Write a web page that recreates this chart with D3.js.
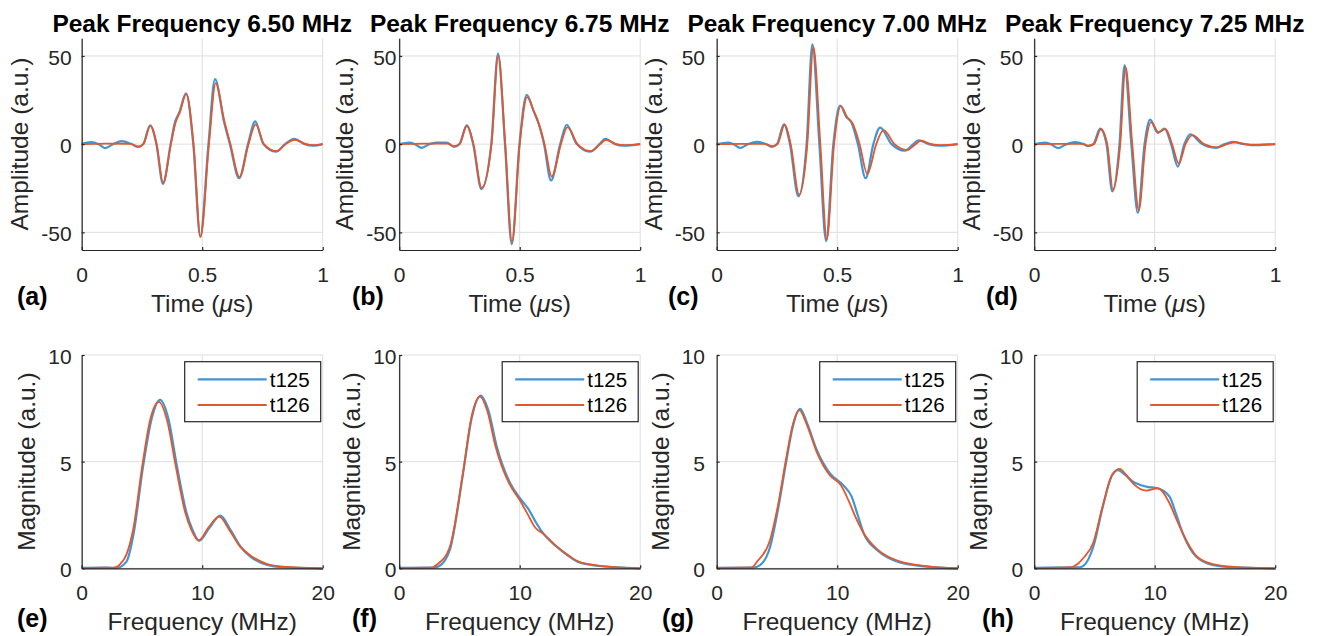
<!DOCTYPE html>
<html>
<head>
<meta charset="utf-8">
<script src="https://cdn.jsdelivr.net/npm/d3@7"></script>
<style>
  body { margin: 0; background: #fff; }
  svg { display: block; font-family: "Liberation Sans", Arial, Helvetica, sans-serif; }
</style>
</head>
<body>
<svg id="chart" width="1320" height="636"></svg>
<script>
// ---- data ----
const seriesNames = ["t125", "t126"];
const panelTitles = ["Peak Frequency 6.50 MHz", "Peak Frequency 6.75 MHz", "Peak Frequency 7.00 MHz", "Peak Frequency 7.25 MHz"];
const topTags = ["(a)", "(b)", "(c)", "(d)"];
const bottomTags = ["(e)", "(f)", "(g)", "(h)"];
const timeTicks = [0, 0.5, 1];
const ampTicks = [-50, 0, 50];
const freqTicks = [0, 10, 20];
const magTicks = [0, 5, 10];

// time traces, [time (us), amplitude]
const waveA125 = [[0,0],[0.04,1.1],[0.07,0],[0.097,-2.2],[0.13,0],[0.166,1.7],[0.205,0.2],[0.235,-1.6],[0.255,0],[0.284,10.7],[0.31,0],[0.337,-22.5],[0.369,0],[0.387,12.5],[0.405,18],[0.433,28.8],[0.463,0],[0.492,-52.4],[0.526,0],[0.553,36.9],[0.59,13],[0.615,0],[0.653,-19.3],[0.69,0],[0.72,12.9],[0.754,0],[0.806,-4.3],[0.844,0],[0.881,3.0],[0.925,0],[0.96,-0.9],[1,0]];
const waveA126 = [[0,0],[0.1,0.3],[0.2,0.2],[0.237,-1.4],[0.256,0],[0.285,10.4],[0.311,0],[0.338,-22],[0.37,0],[0.389,12],[0.407,18],[0.434,28.5],[0.464,0],[0.493,-52.6],[0.528,0],[0.556,34.6],[0.592,13],[0.617,0],[0.655,-18.7],[0.692,0],[0.722,11.2],[0.756,0],[0.808,-4.0],[0.846,0],[0.885,2.5],[0.93,0],[0.965,-0.6],[1,0]];
const waveB125 = [[0,0],[0.042,0.9],[0.065,0],[0.093,-2.1],[0.125,0],[0.155,0.9],[0.197,0.9],[0.227,-1.5],[0.25,0],[0.28,10.7],[0.307,0],[0.341,-25.5],[0.382,0],[0.41,51.3],[0.439,0],[0.467,-56.7],[0.499,0],[0.529,27.9],[0.557,19],[0.58,11],[0.601,0],[0.63,-20.6],[0.668,0],[0.695,11.0],[0.737,0],[0.792,-4.3],[0.831,0],[0.855,3.0],[0.896,0],[0.93,-0.9],[1,0]];
const waveB126 = [[0,0],[0.1,0.3],[0.2,0.3],[0.228,-1.2],[0.25,0],[0.281,10.3],[0.308,0],[0.342,-24.8],[0.383,0],[0.411,50],[0.44,0],[0.468,-55.4],[0.5,0],[0.531,26.6],[0.559,18.5],[0.582,10.5],[0.603,0],[0.633,-18.4],[0.671,0],[0.698,9.7],[0.74,0],[0.795,-4.0],[0.834,0],[0.858,2.5],[0.9,0],[0.935,-0.6],[1,0]];
const waveC125 = [[0,0],[0.048,0.9],[0.07,0],[0.097,-2.1],[0.13,0],[0.166,1.3],[0.205,0],[0.228,-1.5],[0.25,0],[0.279,11.2],[0.304,0],[0.339,-29.6],[0.373,0],[0.397,56.6],[0.426,0],[0.454,-54.9],[0.484,0],[0.512,21.9],[0.538,15.5],[0.56,12],[0.586,0],[0.618,-19.3],[0.65,0],[0.678,9.4],[0.726,0],[0.781,-3.7],[0.816,0],[0.837,2.2],[0.88,0],[0.927,-0.9],[1,0]];
const waveC126 = [[0,0],[0.1,0.2],[0.2,0.2],[0.23,-1.2],[0.252,0],[0.282,11.0],[0.307,0],[0.342,-28.7],[0.376,0],[0.401,55.2],[0.43,0],[0.457,-53.9],[0.487,0],[0.515,21.5],[0.541,15.3],[0.565,11.5],[0.593,0],[0.625,-16.9],[0.662,0],[0.692,7.9],[0.738,0],[0.79,-3.3],[0.825,0],[0.848,2.0],[0.89,0],[0.93,-0.5],[1,0]];
const waveD125 = [[0,0],[0.044,0.9],[0.068,0],[0.099,-2.2],[0.135,0],[0.168,1.1],[0.205,0],[0.223,-1.1],[0.245,0],[0.274,8.8],[0.3,0],[0.324,-26.8],[0.354,0],[0.375,44.8],[0.403,0],[0.43,-39],[0.458,0],[0.481,13.9],[0.513,6.4],[0.541,8.8],[0.568,0],[0.596,-12.7],[0.623,0],[0.647,5.6],[0.697,0],[0.754,-2.1],[0.79,0],[0.823,1.3],[0.87,0],[0.9,-0.6],[1,0]];
const waveD126 = [[0,0],[0.1,0.2],[0.2,0.2],[0.225,-0.9],[0.248,0],[0.277,8.5],[0.303,0],[0.327,-26],[0.357,0],[0.379,43.8],[0.407,0],[0.434,-37.5],[0.462,0],[0.485,12.5],[0.516,6.8],[0.545,8.6],[0.572,0],[0.6,-10.9],[0.628,0],[0.657,5.1],[0.705,0],[0.76,-1.8],[0.8,0],[0.835,1.0],[0.88,0],[0.91,-0.3],[1,0]];

// spectra, [frequency (MHz), magnitude]
const specE125 = [[0,0.02],[2,0.03],[2.9,0.02],[3.7,0.3],[4.3,1.6],[5.1,4.8],[5.8,7.0],[6.5,7.9],[7.2,7.0],[7.9,4.8],[8.7,2.6],[9.2,1.8],[9.75,1.3],[10.6,1.9],[11.5,2.47],[12.4,1.75],[13.2,1.0],[14,0.55],[15.4,0.16],[16.7,0.05],[20,0]];
const specE126 = [[0,0.02],[2,0.03],[2.6,0.02],[3.2,0.2],[3.7,0.63],[4.3,1.9],[5.0,4.7],[5.7,7.0],[6.4,7.8],[7.1,6.9],[7.8,4.8],[8.6,2.6],[9.1,1.8],[9.7,1.3],[10.5,1.9],[11.4,2.42],[12.3,1.75],[13.1,1.05],[14,0.6],[15.4,0.2],[16.7,0.08],[20,0]];
const specF125 = [[0,0.02],[2.8,0.03],[3.3,0.1],[4.2,0.86],[5.3,4.45],[6.0,7.0],[6.76,8.1],[7.4,7.4],[8.1,5.7],[9.2,4.0],[10.0,3.3],[10.7,2.8],[11.4,2.1],[12.0,1.6],[13.0,1.05],[14.0,0.6],[14.9,0.28],[16.4,0.12],[20,0]];
const specF126 = [[0,0.02],[2.7,0.03],[3.2,0.2],[4.2,1.0],[5.3,4.5],[6.0,7.1],[6.7,8.05],[7.3,7.4],[8.0,5.7],[9.1,4.0],[10.0,3.2],[10.6,2.6],[11.3,1.9],[12.0,1.6],[13.0,1.05],[14.0,0.62],[14.9,0.31],[16.4,0.14],[20,0]];
const specG125 = [[0,0.02],[3.0,0.03],[3.6,0.15],[4.43,1.0],[5.1,2.8],[5.8,5.1],[6.3,6.6],[6.92,7.47],[7.5,6.8],[8.3,5.55],[9.4,4.45],[10.5,3.9],[11.2,3.36],[11.7,2.5],[12.2,1.64],[13.3,0.86],[14.2,0.5],[15.2,0.27],[17.4,0.08],[20,0]];
const specG126 = [[0,0.02],[2.9,0.04],[3.4,0.35],[4.43,1.33],[5.1,3.0],[5.75,5.1],[6.3,6.7],[6.85,7.42],[7.5,6.7],[8.3,5.45],[9.4,4.35],[10.3,3.9],[11.0,3.1],[11.6,2.3],[12.2,1.64],[13.3,0.9],[14.2,0.55],[15.2,0.32],[17.4,0.1],[20,0]];
const specH125 = [[0,0.02],[3.0,0.04],[3.78,0.05],[4.1,0.12],[4.9,1.0],[5.7,2.9],[6.4,4.3],[6.95,4.6],[7.5,4.4],[8.2,4.06],[9.3,3.83],[10.26,3.75],[11.23,3.36],[11.8,2.5],[12.33,1.64],[13.43,0.55],[14.8,0.16],[16.5,0.05],[20,0]];
const specH126 = [[0,0.02],[2.95,0.04],[3.6,0.2],[4.06,0.47],[4.9,1.2],[5.7,2.95],[6.5,4.4],[7.1,4.66],[7.6,4.4],[8.2,3.98],[9.3,3.64],[10.26,3.75],[11.23,3.05],[11.8,2.3],[12.33,1.64],[13.43,0.6],[14.8,0.2],[16.5,0.07],[20,0]];

const waves = [[waveA125, waveA126], [waveB125, waveB126], [waveC125, waveC126], [waveD125, waveD126]];
const spectra = [[specE125, specE126], [specF125, specF126], [specG125, specG126], [specH125, specH126]];

// ---- layout / style ----
const colors = ["#3f95d7", "#e4572a"];
const widths = [2.2, 1.8];
const axisColor = "#262626";
const gridColor = "#dedede";
const plotW = 241;
const firstLeft = 81.7;
const colStep = 317.5;
const tickGap = [10, 2.7, 11.7, 11];
const tagX = [[17, 352, 668, 986], [17, 352, 662, 982]];

const svg = d3.select("#chart");

function drawPanel(o) {
  const g = svg.append("g");
  const x = d3.scaleLinear().domain(o.xDomain).range([o.left, o.left + plotW]);
  const y = d3.scaleLinear().domain(o.yDomain).range([o.bottom, o.top]);

  // grid
  g.append("g").selectAll("line").data(o.xTicks).join("line")
    .attr("x1", d => x(d)).attr("x2", d => x(d))
    .attr("y1", o.top).attr("y2", o.bottom)
    .attr("stroke", gridColor).attr("stroke-width", 1);
  g.append("g").selectAll("line").data(o.yTicks).join("line")
    .attr("x1", o.left).attr("x2", o.left + plotW)
    .attr("y1", d => y(d)).attr("y2", d => y(d))
    .attr("stroke", gridColor).attr("stroke-width", 1);

  // traces
  const line = d3.line()
    .x(d => x(d[0]))
    .y(d => y(d[1]))
    .curve(d3.curveMonotoneX);
  o.series.forEach((pts, i) => {
    g.append("path")
      .attr("d", line(pts))
      .attr("fill", "none")
      .attr("stroke", colors[i])
      .attr("stroke-width", widths[i])
      .attr("stroke-linejoin", "round");
  });

  // axes (ticks point inward)
  const yAxis = d3.axisLeft(y).tickValues(o.yTicks)
    .tickSizeInner(-3).tickSizeOuter(0).tickPadding(o.gap)
    .tickFormat(d => String(d));
  const yg = g.append("g").attr("transform", `translate(${o.left},0)`).call(yAxis)
    .attr("font-family", null).attr("font-size", 21);
  yg.selectAll("text").attr("fill", axisColor).attr("dy", "0.4em");

  const xAxis = d3.axisBottom(x).tickValues(o.xTicks)
    .tickSizeInner(-3).tickSizeOuter(0).tickPadding(17)
    .tickFormat(d => String(d));
  const xg = g.append("g").attr("transform", `translate(0,${o.bottom})`).call(xAxis)
    .attr("font-family", null).attr("font-size", 21);
  xg.selectAll("text").attr("fill", axisColor);

  [yg, xg].forEach(a => {
    a.selectAll("path, line").attr("stroke", axisColor).attr("stroke-width", 1.2);
  });

  // y label placed left of the widest tick label
  let maxW = 0;
  yg.selectAll("text").each(function () { maxW = Math.max(maxW, this.getComputedTextLength()); });
  const ylx = o.left - o.gap - maxW - 13;
  g.append("text")
    .attr("transform", `translate(${ylx},${(o.top + o.bottom) / 2}) rotate(-90)`)
    .attr("text-anchor", "middle")
    .attr("font-size", 24.5)
    .attr("fill", axisColor)
    .text(o.yLabel);

  // x label
  const xl = g.append("text")
    .attr("x", o.left + plotW / 2)
    .attr("y", o.bottom + 61.5)
    .attr("text-anchor", "middle")
    .attr("font-size", 24.5)
    .attr("fill", axisColor);
  o.xLabel.forEach(part => {
    xl.append("tspan").attr("font-style", part.italic ? "italic" : null).text(part.text);
  });

  // panel tag
  g.append("text")
    .attr("x", o.tagX)
    .attr("y", o.bottom + o.tagDy)
    .attr("font-size", 25)
    .attr("font-weight", "bold")
    .attr("fill", "#000")
    .text(o.tag);

  if (o.title) {
    g.append("text")
      .attr("x", o.left + plotW / 2)
      .attr("y", 31.5)
      .attr("text-anchor", "middle")
      .attr("font-size", 24.5)
      .attr("font-weight", "bold")
      .attr("fill", "#000")
      .text(o.title);
  }

  if (o.legend) {
    const bw = 136, bh = 60;
    const bx = o.left + plotW - 2 - bw, by = o.top + 6.7;
    const lg = g.append("g").attr("transform", `translate(${bx},${by})`);
    lg.append("rect")
      .attr("width", bw).attr("height", bh)
      .attr("fill", "#fff").attr("stroke", axisColor).attr("stroke-width", 1.2);
    const rows = lg.selectAll("g.row").data(seriesNames).join("g")
      .attr("transform", (d, i) => `translate(0,${17.6 + i * 25.7})`);
    rows.append("line")
      .attr("x1", 13).attr("x2", 82)
      .attr("stroke", (d, i) => colors[i])
      .attr("stroke-width", (d, i) => widths[i]);
    rows.append("text")
      .attr("x", 85).attr("y", 7.3)
      .attr("font-size", 20.5)
      .attr("fill", "#000")
      .text(d => d);
  }
}

for (let c = 0; c < 4; c++) {
  const left = firstLeft + c * colStep;
  drawPanel({
    left, top: 38.3, bottom: 250,
    xDomain: [0, 1], yDomain: [-60, 60],
    xTicks: timeTicks, yTicks: ampTicks,
    gap: tickGap[c],
    series: waves[c],
    yLabel: "Amplitude (a.u.)",
    xLabel: [{ text: "Time (" }, { text: "\u03bc", italic: true }, { text: "s)" }],
    tag: topTags[c], tagX: tagX[0][c], tagDy: 55,
    title: panelTitles[c],
    legend: false
  });
  drawPanel({
    left, top: 355, bottom: 568.3,
    xDomain: [0, 20], yDomain: [0, 10],
    xTicks: freqTicks, yTicks: magTicks,
    gap: tickGap[c],
    series: spectra[c],
    yLabel: "Magnitude (a.u.)",
    xLabel: [{ text: "Frequency (MHz)" }],
    tag: bottomTags[c], tagX: tagX[1][c], tagDy: 58.5,
    title: null,
    legend: true
  });
}
</script>
</body>
</html>
